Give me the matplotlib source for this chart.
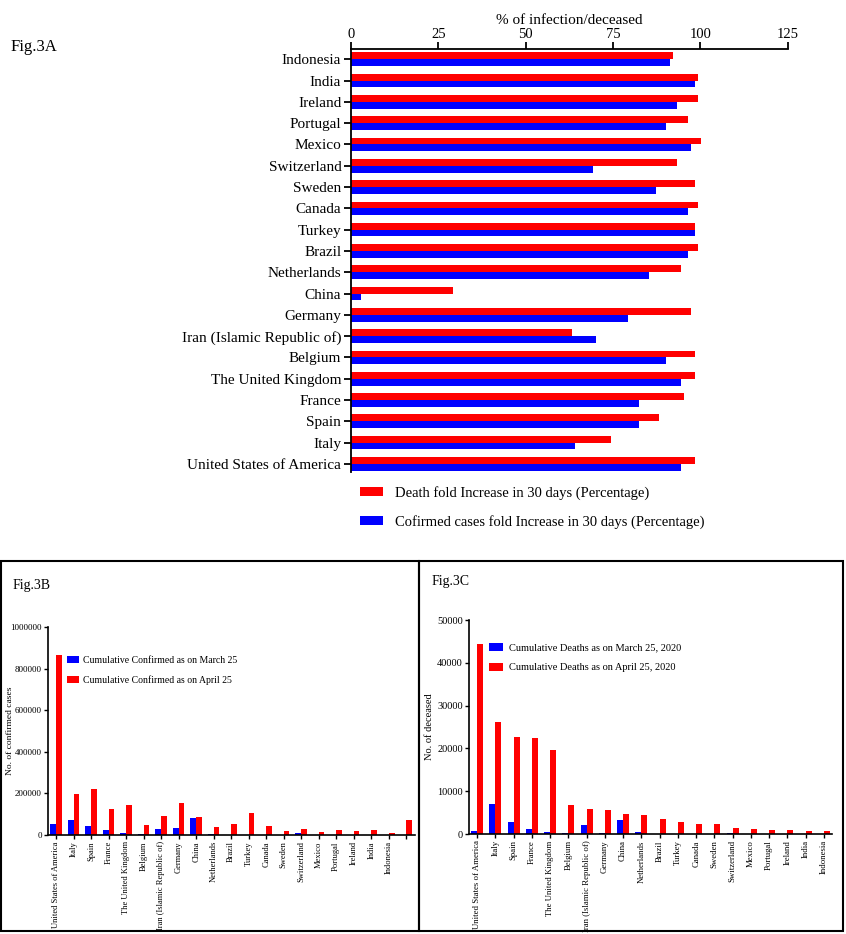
import numpy as np
import matplotlib
matplotlib.use('Agg')
import matplotlib.pyplot as plt
from matplotlib.patches import Rectangle

plt.rcParams['font.family'] = ['Liberation Serif', 'DejaVu Serif']

# countries, bottom-to-top in Fig.3A and left-to-right in Fig.3B/3C
countries = ['United States of America', 'Italy', 'Spain', 'France', 'The United Kingdom',
             'Belgium', 'Iran (Islamic Republic of)', 'Germany', 'China', 'Netherlands',
             'Brazil', 'Turkey', 'Canada', 'Sweden', 'Switzerland', 'Mexico', 'Portugal',
             'Ireland', 'India', 'Indonesia']

# Fig.3A : fold increase in 30 days (%)
death_pct = [98.4, 74.3, 88.3, 95.4, 98.4, 98.4, 63.3, 97.3, 29.2, 94.4,
             99.4, 98.4, 99.4, 98.4, 93.4, 100.3, 96.4, 99.4, 99.4, 92.3]
conf_pct = [94.4, 64.2, 82.3, 82.3, 94.4, 90.3, 70.2, 79.3, 3.0, 85.4,
            96.4, 98.4, 96.4, 87.4, 69.3, 97.3, 90.3, 93.4, 98.4, 91.3]

# Fig.3B : cumulative confirmed (last category has no label in the original)
labels_b = countries + ['']
conf_mar25 = [52800, 70400, 41600, 24000, 9600, 4800, 28800, 33600, 83200, 6400,
              2400, 2000, 2000, 2400, 9600, 400, 2400, 1300, 600, 700, 0]
conf_apr25 = [864000, 195200, 220800, 123200, 145600, 46400, 91200, 153600, 86400, 38400,
              51200, 107200, 43200, 17600, 28800, 12800, 24000, 19200, 24000, 9600, 70400]

# Fig.3C : cumulative deaths
death_mar25 = [700, 6900, 2700, 1160, 465, 230, 2090, 230, 3330, 465,
               60, 50, 30, 40, 150, 5, 30, 10, 10, 60]
death_apr25 = [44400, 26170, 22740, 22430, 19700, 6740, 5735, 5580, 4730, 4340,
               3410, 2710, 2325, 2250, 1320, 1090, 930, 850, 780, 700]

RED = '#ff0000'
BLUE = '#0000ff'
W, H = 846., 934.


def fig_rect(x0, y0, x1, y1):
    # pixel box (top-left origin) -> figure fraction [left, bottom, width, height]
    return [x0/W, 1-y1/H, (x1-x0)/W, (y1-y0)/H]


fig = plt.figure(figsize=(8.46, 9.34), dpi=100)

# ---------------- Fig.3A ----------------
ax = fig.add_axes(fig_rect(351, 49, 787.7, 472))
pos = np.arange(len(countries))
hb = 0.32
ax.barh(pos + hb/2, death_pct, height=hb, color=RED, label='Death fold Increase in 30 days (Percentage)')
ax.barh(pos - hb/2, conf_pct, height=hb, color=BLUE, label='Cofirmed cases fold Increase in 30 days (Percentage)')
ax.set_xlim(0, 125)
ax.set_xticks([0, 25, 50, 75, 100, 125])
ax.set_ylim(-0.38, len(countries) - 1 + 0.48)
ax.set_yticks(pos)
ax.set_yticklabels(countries, fontsize=11)
ax.xaxis.tick_top()
ax.xaxis.set_label_position('top')
ax.set_xlabel('% of infection/deceased', fontsize=11, labelpad=3)
for item in ax.get_xticklabels():
    item.set_fontsize(10.5)
ax.spines['bottom'].set_visible(False)
ax.spines['right'].set_visible(False)
for s in ['left', 'top']:
    ax.spines[s].set_linewidth(1.3)
ax.tick_params(axis='both', width=1.3, length=5, pad=2)
ax.tick_params(axis='x', pad=1)
fig.legend(*ax.get_legend_handles_labels(), loc='upper left', bbox_to_anchor=(360/W, 1-486/H),
           bbox_transform=fig.transFigure, frameon=False, fontsize=10.5, borderpad=0,
           borderaxespad=0, handlelength=1.6, handleheight=0.55, handletextpad=0.8, labelspacing=1.05)
fig.text(11/W, 1-47/H, 'Fig.3A', fontsize=12, va='center', ha='left')

# frames around the two lower panels
fig.patches.append(Rectangle((1/W, 1-931/H), 418/W, 370/H, transform=fig.transFigure,
                             fill=False, edgecolor='black', linewidth=1.5))
fig.patches.append(Rectangle((419/W, 1-931/H), 424/W, 370/H, transform=fig.transFigure,
                             fill=False, edgecolor='black', linewidth=1.5))

# ---------------- Fig.3B ----------------
ax = fig.add_axes(fig_rect(48, 627, 415, 835))
pos = np.arange(len(labels_b))
wb = 0.33
ax.bar(pos - wb/2, conf_mar25, width=wb, color=BLUE, label='Cumulative Confirmed as on March 25')
ax.bar(pos + wb/2, conf_apr25, width=wb, color=RED, label='Cumulative Confirmed as on April 25')
ax.set_xlim(-0.46, len(labels_b) - 0.5)
ax.set_ylim(0, 1000000)
yt = [0, 200000, 400000, 600000, 800000, 1000000]
ax.set_yticks(yt)
ax.set_yticklabels([str(v) for v in yt], fontsize=6.5)
ax.set_xticks(pos)
ax.set_xticklabels(labels_b, rotation=90, fontsize=6.1)
ax.set_ylabel('No. of confirmed cases', fontsize=6.8)
ax.yaxis.set_label_coords(-0.092, 0.5)
ax.spines['top'].set_visible(False)
ax.spines['right'].set_visible(False)
for s in ['left', 'bottom']:
    ax.spines[s].set_linewidth(1.2)
ax.tick_params(axis='both', width=1.0, length=3, pad=1.5)
ax.legend(loc='upper left', bbox_to_anchor=(67/W, 1-656/H), bbox_transform=fig.transFigure,
          frameon=False, fontsize=7, borderpad=0, borderaxespad=0, handlelength=1.25,
          handleheight=0.72, handletextpad=0.4, labelspacing=1.05)
fig.text(13/W, 1-585/H, 'Fig.3B', fontsize=10, va='center', ha='left')

# ---------------- Fig.3C ----------------
ax = fig.add_axes(fig_rect(469, 620, 832, 834))
pos = np.arange(len(countries))
ax.bar(pos - wb/2, death_mar25, width=wb, color=BLUE, label='Cumulative Deaths as on March 25, 2020')
ax.bar(pos + wb/2, death_apr25, width=wb, color=RED, label='Cumulative Deaths as on April 25, 2020')
ax.set_xlim(-0.44, len(countries) - 1 + 0.44)
ax.set_ylim(0, 50000)
yt = [0, 10000, 20000, 30000, 40000, 50000]
ax.set_yticks(yt)
ax.set_yticklabels([str(v) for v in yt], fontsize=7.5)
ax.set_xticks(pos)
ax.set_xticklabels(countries, rotation=90, fontsize=6.3)
ax.set_ylabel('No. of deceased', fontsize=7.5, labelpad=2)
ax.spines['top'].set_visible(False)
ax.spines['right'].set_visible(False)
for s in ['left', 'bottom']:
    ax.spines[s].set_linewidth(1.2)
ax.tick_params(axis='both', width=1.0, length=3, pad=1.5)
ax.legend(loc='upper left', bbox_to_anchor=(489/W, 1-643/H), bbox_transform=fig.transFigure,
          frameon=False, fontsize=7.5, borderpad=0, borderaxespad=0, handlelength=1.35,
          handleheight=0.85, handletextpad=0.55, labelspacing=0.95)
fig.text(432/W, 1-582/H, 'Fig.3C', fontsize=10, va='center', ha='left')

fig.savefig('out.png', dpi=100)
plt.close()
